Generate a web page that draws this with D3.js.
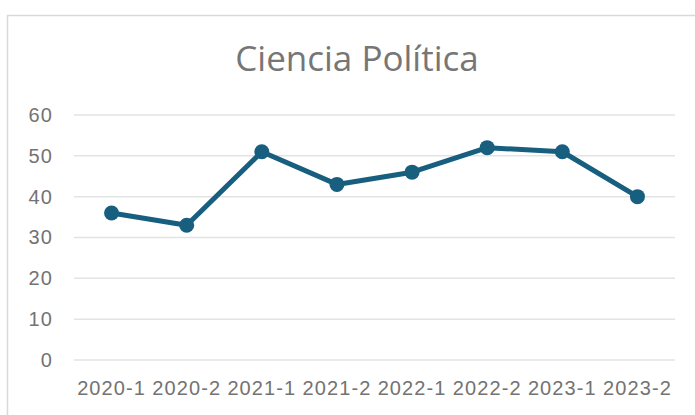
<!DOCTYPE html>
<html>
<head>
<meta charset="utf-8">
<script src="https://cdn.jsdelivr.net/npm/d3@7"></script>
<style>
  body { margin: 0; background: #fff; }
  .tick text { font-family: "Liberation Sans", Arial, sans-serif; font-size: 20px; fill: #737373; letter-spacing: 1.1px; }
</style>
</head>
<body>
<svg width="695" height="415"></svg>
<script>
var categories = ["2020-1","2020-2","2021-1","2021-2","2022-1","2022-2","2023-1","2023-2"];
var values = [36, 33, 51, 43, 46, 52, 51, 40];
var yTicks = [0, 10, 20, 30, 40, 50, 60];

var svg = d3.select("svg");
var margin = {left: 74, right: 20, top: 115, bottom: 55};
var width = 675 - margin.left;
var height = 360 - margin.top;

// chart area border
svg.append("rect")
  .attr("x", 7.5).attr("y", 15.5)
  .attr("width", 700).attr("height", 420)
  .style("fill", "#fff")
  .style("stroke", "#d9d9d9")
  .style("stroke-width", 1.5);

svg.append("text")
  .attr("x", 357)
  .attr("y", 71)
  .attr("text-anchor", "middle")
  .style("font-family", "'Open Sans', sans-serif")
  .style("font-size", "35px")
  .style("fill", "#767676")
  .text("Ciencia Política");

var xScale = d3.scaleBand().domain(categories).range([0, width]);
var yScale = d3.scaleLinear().domain([0, 60]).range([height, 0]);

var g = svg.append("g").attr("transform", "translate(" + margin.left + "," + margin.top + ")");

// gridlines
g.selectAll("line.grid")
  .data(yTicks)
  .enter().append("line")
  .attr("class", "grid")
  .attr("x1", 0).attr("x2", width)
  .attr("y1", d => yScale(d)).attr("y2", d => yScale(d))
  .style("stroke", "#e3e3e3")
  .style("stroke-width", 1.5);

var yAxis = g.append("g")
  .call(d3.axisLeft(yScale).tickValues(yTicks).tickSize(0).tickPadding(21));
yAxis.select(".domain").remove();

var xAxis = g.append("g")
  .attr("transform", "translate(0," + height + ")")
  .call(d3.axisBottom(xScale).tickSize(0).tickPadding(21));
xAxis.select(".domain").remove();

var line = d3.line()
  .x((d, i) => xScale(categories[i]) + xScale.bandwidth() / 2)
  .y(d => yScale(d));

g.append("path")
  .datum(values)
  .attr("d", line)
  .style("fill", "none")
  .style("stroke", "#175e7f")
  .style("stroke-width", 5)
  .style("stroke-linejoin", "round");

g.selectAll("circle")
  .data(values)
  .enter().append("circle")
  .attr("cx", (d, i) => xScale(categories[i]) + xScale.bandwidth() / 2)
  .attr("cy", d => yScale(d))
  .attr("r", 7.5)
  .style("fill", "#175e7f");
</script>
</body>
</html>
